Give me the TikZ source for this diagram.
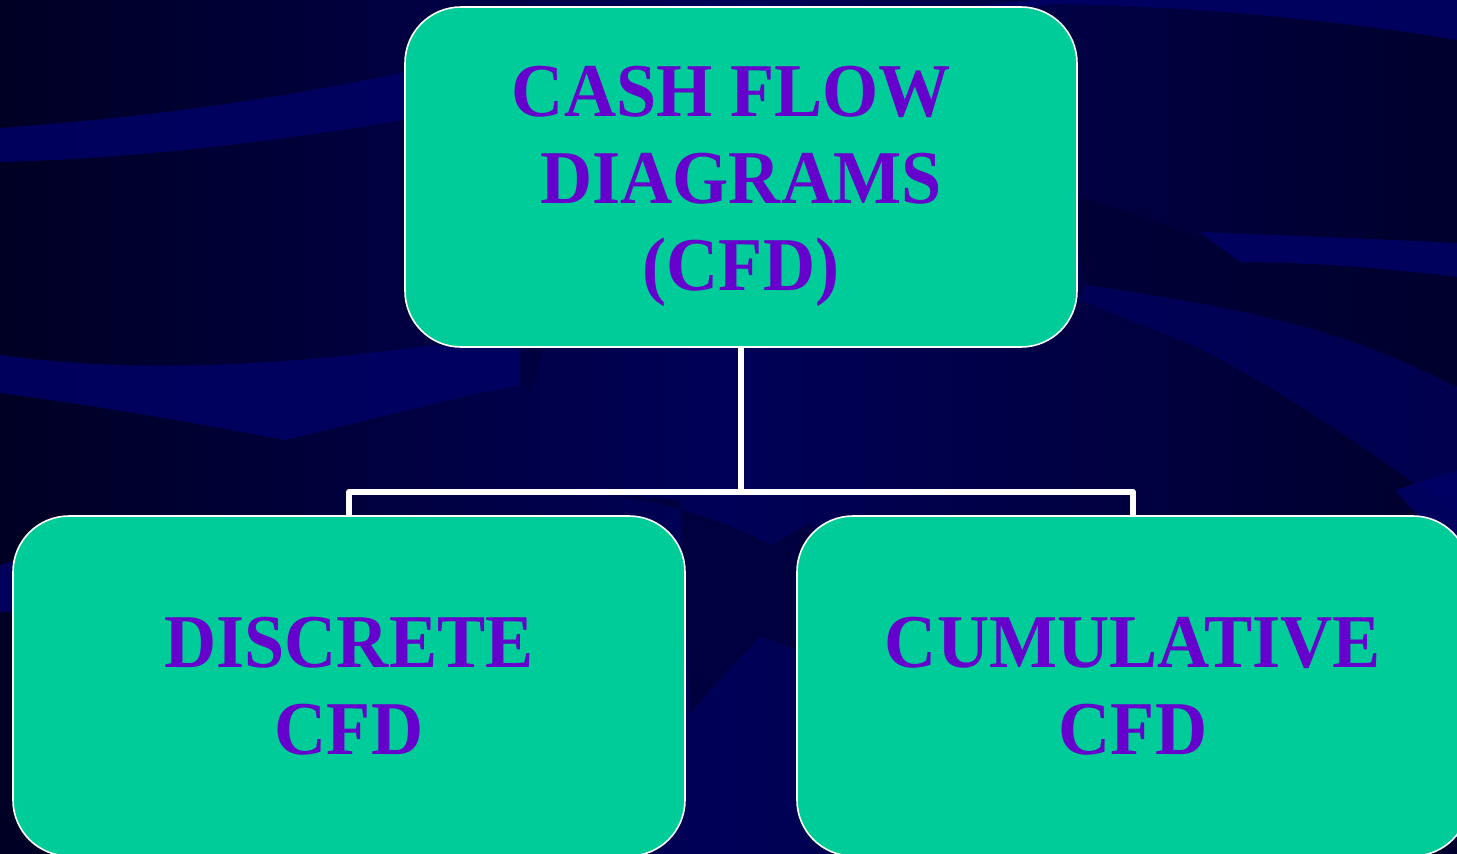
\documentclass[tikz,border=0pt]{standalone}
\usepackage{fontspec}
\setmainfont{Liberation Serif}
\newfontfamily\boxfont{Liberation Serif}[FakeStretch=0.95]
\definecolor{boxfill}{RGB}{0,204,153}
\definecolor{boxtext}{RGB}{102,0,204}
\definecolor{bgA}{RGB}{0,0,36}
\definecolor{bgB}{RGB}{0,0,88}
\definecolor{bgC}{RGB}{0,0,44}
\definecolor{bandc}{RGB}{0,0,102}
\definecolor{darkc}{RGB}{0,0,48}
\begin{document}
\begin{tikzpicture}[x=0.5pt,y=-0.5pt,
  boxshape/.style={draw=white, line width=0.8pt, fill=boxfill, rounded corners=28pt,
    minimum width=336pt, minimum height=170pt, inner sep=0pt},
  boxlabel/.style={align=center, text=boxtext, inner sep=0pt,
    font=\boxfont\bfseries\fontsize{38}{43.5}\selectfont},
  box/.style={boxshape, boxlabel},
  conn/.style={draw=white, line width=3pt, line join=round},
  band/.style={fill=bandc, opacity=0.85},
  dband/.style={fill=darkc, opacity=0.6}]
\useasboundingbox (0,0) rectangle (1457,853);
\clip (0,0) rectangle (1457,853);
% background
\shade[left color=bgA, right color=bgC, middle color=bgB] (0,0) rectangle (1457,853);
% light and dark bands
\fill[band] (0,128) .. controls (180,115) and (320,92) .. (450,62) -- (1050,-2) -- (1457,-2) -- (1457,40)
  .. controls (1350,22) and (1200,6) .. (1050,4) -- (450,112) .. controls (320,135) and (160,158) .. (0,162) -- cycle;
\fill[band] (0,355) .. controls (120,372) and (260,368) .. (420,347) -- (520,340) -- (520,385) -- (470,395)
  -- (285,440) .. controls (180,420) and (90,405) .. (0,393) -- cycle;
\fill[dband, opacity=0.35] (520,340) -- (545,345) -- (530,390) -- (520,385) -- cycle;
\fill[dband] (1070,195) .. controls (1150,215) and (1200,240) .. (1240,252) -- (1457,262) -- (1457,387)
  .. controls (1380,350) and (1320,318) .. (1085,285) -- cycle;
\fill[band] (1200,232) .. controls (1300,236) and (1400,240) .. (1457,243) -- (1457,277)
  .. controls (1400,270) and (1320,262) .. (1240,262) -- cycle;
\fill[band, opacity=0.6] (1085,285) .. controls (1320,318) and (1380,350) .. (1457,387) -- (1457,513)
  .. controls (1380,460) and (1300,400) .. (1197,347) -- (1080,300) -- cycle;
\fill[band] (1395,490) -- (1457,470) -- (1457,560) -- cycle;
\fill[dband] (560,490) .. controls (640,495) and (700,510) .. (772,545) -- (812,522) -- (812,655)
  -- (760,636) -- (690,712) -- (680,500) -- cycle;
\fill[band] (0,565) .. controls (20,560) and (30,555) .. (40,550) -- (40,610) -- (0,612) -- cycle;
% boxes
\node[boxshape] (top) at (741,177) {};
\node[boxlabel] (toptext) at (741,186) {CASH FLOW\hspace*{0.25em}\\DIAGRAMS\\(CFD)};
\node[box] (dl) at (349,686) {DISCRETE\\CFD};
\node[box] (dr) at (1133,686) {CUMULATIVE\\CFD};
% connectors
\coordinate (j) at (741,492);
\draw[conn] (top.south) -- (j);
\draw[conn] (dl.north) -- (dl.north |- j) -- (dr.north |- j) -- (dr.north);
\end{tikzpicture}
\end{document}
